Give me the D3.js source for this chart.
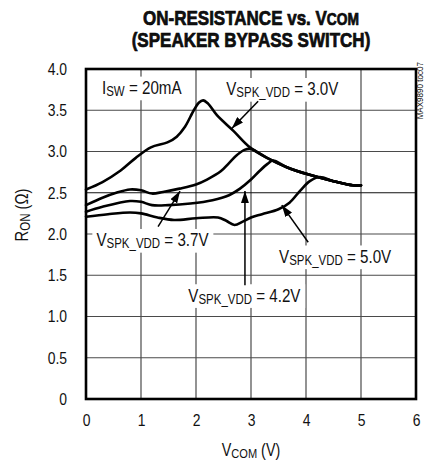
<!DOCTYPE html>
<html>
<head>
<meta charset="utf-8">
<script src="https://cdn.jsdelivr.net/npm/d3@7"></script>
<style>
  html, body { margin: 0; padding: 0; background: #fff; }
  svg { display: block; }
  text { font-family: "Liberation Sans", Arial, sans-serif; fill: #111; }
</style>
</head>
<body>
<svg id="chart" width="424" height="462"></svg>
<script>
// R_ON (ohm) vs V_COM (V), one array of [vcom, ron] pairs per supply voltage
const ron30 = [[0,2.54],[0.3,2.63],[0.63,2.77],[0.9,2.92],[1.18,3.05],[1.48,3.11],[1.65,3.18],[1.8,3.3],[1.96,3.5],[2.05,3.59],[2.13,3.62],[2.22,3.58],[2.38,3.44],[2.68,3.25],[2.98,3.05],[3.3,2.92],[3.65,2.81],[4.05,2.72],[4.5,2.64],[4.85,2.59],[5.0,2.59]];
const ron37 = [[0,2.35],[0.3,2.44],[0.55,2.5],[0.8,2.54],[1.0,2.53],[1.2,2.49],[1.4,2.51],[1.7,2.55],[2.0,2.6],[2.2,2.66],[2.45,2.76],[2.6,2.86],[2.75,2.96],[2.88,3.02],[3.0,3.03],[3.3,2.92],[3.65,2.81],[4.05,2.72],[4.5,2.64],[4.85,2.59],[5.0,2.59]];
const ron42 = [[0,2.27],[0.3,2.33],[0.8,2.4],[1.0,2.39],[1.2,2.35],[1.5,2.35],[1.9,2.37],[2.3,2.41],[2.6,2.47],[2.8,2.55],[3.0,2.66],[3.15,2.76],[3.3,2.85],[3.4,2.89],[3.65,2.81],[4.05,2.72],[4.5,2.64],[4.85,2.59],[5.0,2.59]];
const ron50 = [[0,2.21],[0.4,2.24],[0.8,2.26],[1.0,2.25],[1.3,2.2],[1.6,2.17],[2.0,2.19],[2.4,2.2],[2.55,2.16],[2.7,2.11],[2.85,2.15],[3.0,2.2],[3.2,2.24],[3.5,2.3],[3.7,2.38],[3.9,2.53],[4.07,2.64],[4.25,2.69],[4.5,2.64],[4.85,2.59],[5.0,2.59]];

const xTicks = [0, 1, 2, 3, 4, 5, 6];
const yTicks = [0, 0.5, 1.0, 1.5, 2.0, 2.5, 3.0, 3.5, 4.0];
const yTickLabels = ["0", "0.5", "1.0", "1.5", "2.0", "2.5", "3.0", "3.5", "4.0"];

// Curve annotations: supply voltage, label anchor, arrow tail and tip (all in data units)
const annotations = [
  { v: "3.0V", at: [2.55, 3.68], tail: [3.13, 3.61], tip: [2.65, 3.28] },
  { v: "3.7V", at: [0.19, 1.85], tail: [1.31, 2.09], tip: [1.71, 2.52] },
  { v: "4.2V", at: [1.86, 1.18], tail: [2.89, 1.38], tip: [2.89, 2.52] },
  { v: "5.0V", at: [3.51, 1.65], tail: [4.04, 1.9], tip: [3.56, 2.35] }
];

const SX = 0.82;              // horizontal squeeze for a narrow face
const svg = d3.select("#chart");
const L = 86, R = 416, T = 69, B = 399;
const x = d3.scaleLinear().domain([0, 6]).range([L, R]);
const y = d3.scaleLinear().domain([0, 4]).range([B, T]);

// grid
const grid = svg.append("g");
grid.selectAll("line.vx").data(xTicks.slice(1, -1)).join("line")
  .attr("x1", d => x(d)).attr("x2", d => x(d)).attr("y1", T).attr("y2", B)
  .attr("stroke", "#4a4a4a").attr("stroke-width", 1.2);
grid.selectAll("line.hy").data(yTicks.slice(1, -1)).join("line")
  .attr("x1", L).attr("x2", R).attr("y1", d => y(d)).attr("y2", d => y(d))
  .attr("stroke", d => d === 2.5 ? "#111" : "#4a4a4a").attr("stroke-width", 1.2);

// axes (tick labels only; the frame is drawn separately)
const xAxis = d3.axisBottom(x).tickValues(xTicks).tickSize(0).tickPadding(15).tickFormat(d3.format("d"));
const yAxis = d3.axisLeft(y).tickValues(yTicks).tickSize(0).tickPadding(19)
  .tickFormat((d, i) => yTickLabels[i]);
const gx = svg.append("g").attr("transform", `translate(0,${B})`).call(xAxis);
const gy = svg.append("g").attr("transform", `translate(${L},0)`).call(yAxis);
[gx, gy].forEach(g => {
  g.select(".domain").remove();
  g.attr("font-family", null).attr("font-size", null);
  g.selectAll("text").attr("font-size", 17).attr("fill", "#222")
    .attr("transform", `scale(${SX},1)`);
});
gy.selectAll("text").attr("x", -19 / SX);

// curves
const line = d3.line().x(d => x(d[0])).y(d => y(d[1])).curve(d3.curveCatmullRom.alpha(0.5));
svg.append("g").selectAll("path").data([ron30, ron37, ron42, ron50]).join("path")
  .attr("d", line).attr("fill", "none").attr("stroke", "#000")
  .attr("stroke-width", 2.6).attr("stroke-linejoin", "round").attr("stroke-linecap", "round");

// label with lowered, smaller subscript, squeezed, on a white box
const ann = svg.append("g");
function subLabel(px, py, main, sub, rest, size, subSize, box) {
  const g = ann.append("g").attr("transform", `translate(${px},${py}) scale(${SX},1)`);
  const t = g.append("text").attr("font-size", size);
  t.append("tspan").text(main);
  t.append("tspan").attr("font-size", subSize).attr("dy", 2).text(sub);
  t.append("tspan").attr("dy", -2).text(rest);
  if (box) {
    const bb = t.node().getBBox();
    g.insert("rect", "text").attr("x", bb.x - 5).attr("y", bb.y - 1)
      .attr("width", bb.width + 10).attr("height", bb.height + 2).attr("fill", "#fff");
  }
  return g;
}

subLabel(102, 94, "I", "SW", " = 20mA", 18.5, 14, true);
annotations.forEach(a => subLabel(x(a.at[0]), y(a.at[1]), "V", "SPK_VDD", " = " + a.v, 18.5, 14, true));

// arrowhead
svg.append("defs").append("marker").attr("id", "ah")
  .attr("viewBox", "0 0 12 8").attr("refX", 12).attr("refY", 4)
  .attr("markerWidth", 12).attr("markerHeight", 8).attr("markerUnits", "userSpaceOnUse")
  .attr("orient", "auto")
  .append("path").attr("d", "M0,0 L12,4 L0,8 Z").attr("fill", "#000");

annotations.forEach(a => {
  ann.append("line")
    .attr("x1", x(a.tail[0])).attr("y1", y(a.tail[1]))
    .attr("x2", x(a.tip[0])).attr("y2", y(a.tip[1]))
    .attr("stroke", "#000").attr("stroke-width", 1.5).attr("marker-end", "url(#ah)");
});

// frame
svg.append("rect").attr("x", L).attr("y", T).attr("width", R - L).attr("height", B - T)
  .attr("fill", "none").attr("stroke", "#000").attr("stroke-width", 2.6);

// title, two lines, heavy condensed
const t1 = svg.append("g").attr("transform", `translate(251,25) scale(0.81,1)`)
  .append("text").attr("text-anchor", "middle").attr("font-weight", "bold").attr("font-size", 21)
  .attr("fill", "#000").attr("stroke", "#000").attr("stroke-width", 0.7);
t1.append("tspan").text("ON-RESISTANCE vs. V");
t1.append("tspan").attr("font-size", 17).text("COM");
svg.append("g").attr("transform", `translate(251,46.5) scale(0.81,1)`)
  .append("text").attr("text-anchor", "middle").attr("font-weight", "bold").attr("font-size", 21)
  .attr("fill", "#000").attr("stroke", "#000").attr("stroke-width", 0.7)
  .text("(SPEAKER BYPASS SWITCH)");

// axis titles
const xt = svg.append("g").attr("transform", `translate(251,456) scale(${SX},1)`)
  .append("text").attr("text-anchor", "middle").attr("font-size", 17.5);
xt.append("tspan").text("V");
xt.append("tspan").attr("font-size", 13.5).attr("dy", 2).text("COM");
xt.append("tspan").attr("dy", -2).text(" (V)");

const yt = svg.append("g").attr("transform", `translate(28,215) rotate(-90) scale(${SX},1)`)
  .append("text").attr("text-anchor", "middle").attr("font-size", 18);
yt.append("tspan").text("R");
yt.append("tspan").attr("font-size", 14).attr("dy", 2).text("ON");
yt.append("tspan").attr("dy", -2).text(" (Ω)");

// part reference
svg.append("g").attr("transform", "translate(423,62) rotate(-90) scale(0.85,1)")
  .append("text").attr("text-anchor", "end").attr("font-size", 9.5).attr("fill", "#555")
  .text("MAX9890 toc07");
</script>
</body>
</html>
